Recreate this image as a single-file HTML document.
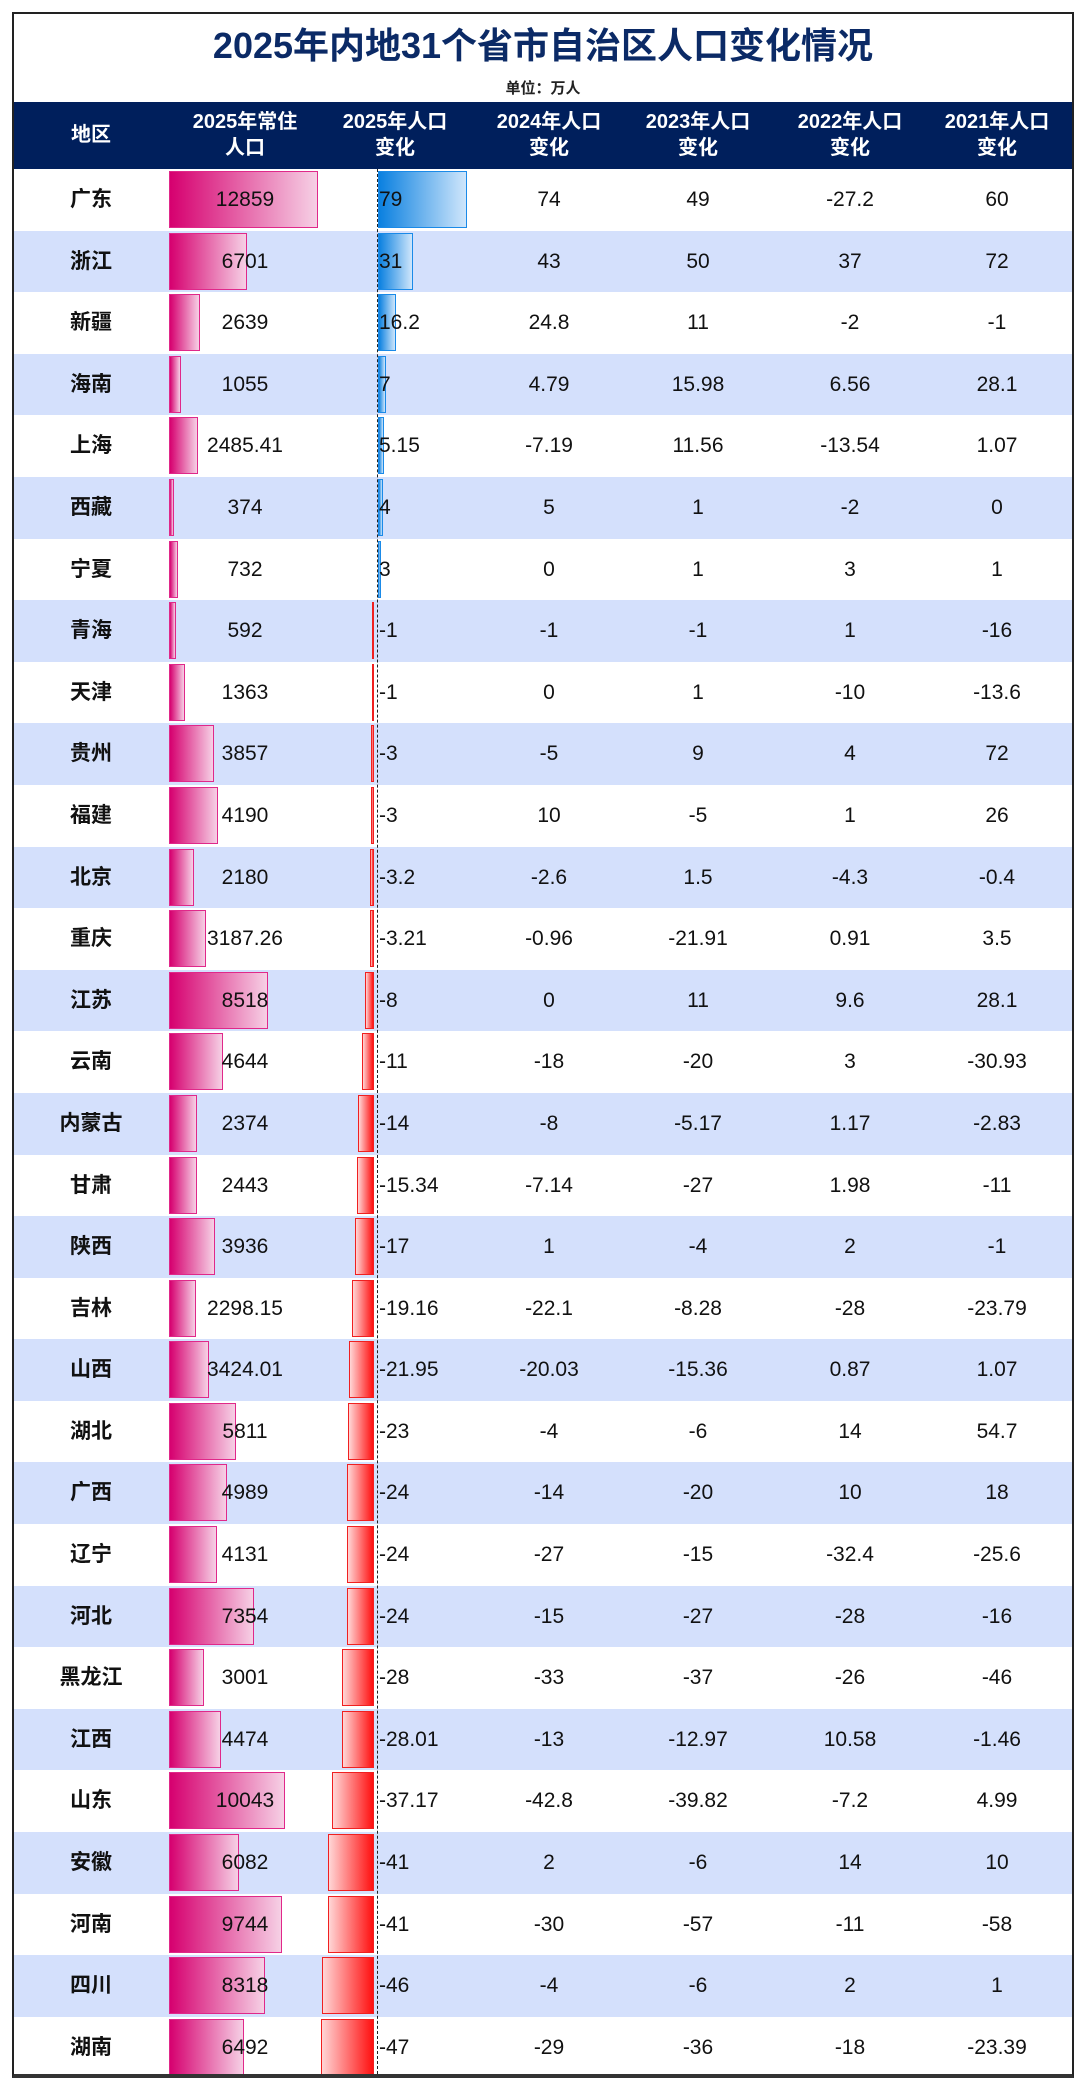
<!DOCTYPE html>
<html><head><meta charset="utf-8"><style>
*{margin:0;padding:0;box-sizing:border-box}
body{width:1080px;height:2085px;background:#fff;font-family:"Liberation Sans","Noto Sans CJK SC",sans-serif;position:relative;overflow:hidden}
#box{position:absolute;left:12px;top:12px;width:1062px;height:2066px;border:2px solid #222;border-bottom:4px solid #333;overflow:hidden}
#title{position:absolute;left:0;width:100%;top:10px;text-align:center;font-size:36px;font-weight:bold;color:#0b2a66;line-height:44px}
#unit{position:absolute;left:0;width:100%;top:63px;text-align:center;font-size:15px;font-weight:bold;color:#222}
#hd{position:absolute;left:0;top:88px;width:100%;height:67px;background:#001f5c;color:#fff;font-weight:bold;font-size:20px}
#hd div{position:absolute;top:0;height:67px;width:160px;margin-left:-80px;text-align:center;line-height:26px;padding-top:7px}
#rows{position:absolute;left:0;top:155px;width:100%}
.r{position:relative;height:61.6px;font-size:21px;color:#111}
.r:nth-child(even){background:#d4e0fc}
.r div{position:absolute}
.n{left:0;width:154px;text-align:center;font-weight:bold;top:0;line-height:61.6px}
.pb{left:155px;top:2px;height:57px;background:linear-gradient(90deg,#d6006f,#f6d0e5);border:1.5px solid #e0288a}
.pv{left:151px;width:160px;text-align:center;line-height:61.6px;top:0}
.cp{left:364px;top:2px;height:57px;background:linear-gradient(90deg,#0a80e0,#cfe6fb);border:1.5px solid #1a8ae8}
.cn{right:698px;top:2px;height:57px;background:linear-gradient(90deg,#ffd6d6,#ff1010);border:1.5px solid #f02020}
.cv{left:365px;line-height:61.6px;top:0}
.c{width:140px;margin-left:-70px;text-align:center;line-height:61.6px;top:0}
.a{left:535px}.b{left:684px}.d{left:836px}.e{left:983px}
#ax{position:absolute;left:363px;top:155px;height:1920px;border-left:1.5px dashed #222}
</style></head><body>
<div id="box">
<div id="title">2025年内地31个省市自治区人口变化情况</div>
<div id="unit">单位：万人</div>
<div id="hd">
<div style="left:77px;padding-top:20px">地区</div>
<div style="left:231px">2025年常住<br>人口</div>
<div style="left:381px">2025年人口<br>变化</div>
<div style="left:535px">2024年人口<br>变化</div>
<div style="left:684px">2023年人口<br>变化</div>
<div style="left:836px">2022年人口<br>变化</div>
<div style="left:983px">2021年人口<br>变化</div>
</div>
<div id="rows">
<div class="r"><div class="n">广东</div><div class="pb" style="width:149px"></div><div class="pv">12859</div><div class="cp" style="width:89px"></div><div class="cv">79</div><div class="c a">74</div><div class="c b">49</div><div class="c d">-27.2</div><div class="c e">60</div></div>
<div class="r"><div class="n">浙江</div><div class="pb" style="width:78px"></div><div class="pv">6701</div><div class="cp" style="width:35px"></div><div class="cv">31</div><div class="c a">43</div><div class="c b">50</div><div class="c d">37</div><div class="c e">72</div></div>
<div class="r"><div class="n">新疆</div><div class="pb" style="width:31px"></div><div class="pv">2639</div><div class="cp" style="width:18px"></div><div class="cv">16.2</div><div class="c a">24.8</div><div class="c b">11</div><div class="c d">-2</div><div class="c e">-1</div></div>
<div class="r"><div class="n">海南</div><div class="pb" style="width:12px"></div><div class="pv">1055</div><div class="cp" style="width:8px"></div><div class="cv">7</div><div class="c a">4.79</div><div class="c b">15.98</div><div class="c d">6.56</div><div class="c e">28.1</div></div>
<div class="r"><div class="n">上海</div><div class="pb" style="width:29px"></div><div class="pv">2485.41</div><div class="cp" style="width:6px"></div><div class="cv">5.15</div><div class="c a">-7.19</div><div class="c b">11.56</div><div class="c d">-13.54</div><div class="c e">1.07</div></div>
<div class="r"><div class="n">西藏</div><div class="pb" style="width:5px"></div><div class="pv">374</div><div class="cp" style="width:4.5px"></div><div class="cv">4</div><div class="c a">5</div><div class="c b">1</div><div class="c d">-2</div><div class="c e">0</div></div>
<div class="r"><div class="n">宁夏</div><div class="pb" style="width:8.5px"></div><div class="pv">732</div><div class="cp" style="width:3.4px"></div><div class="cv">3</div><div class="c a">0</div><div class="c b">1</div><div class="c d">3</div><div class="c e">1</div></div>
<div class="r"><div class="n">青海</div><div class="pb" style="width:7px"></div><div class="pv">592</div><div class="cn" style="width:1.5px"></div><div class="cv">-1</div><div class="c a">-1</div><div class="c b">-1</div><div class="c d">1</div><div class="c e">-16</div></div>
<div class="r"><div class="n">天津</div><div class="pb" style="width:16px"></div><div class="pv">1363</div><div class="cn" style="width:1.5px"></div><div class="cv">-1</div><div class="c a">0</div><div class="c b">1</div><div class="c d">-10</div><div class="c e">-13.6</div></div>
<div class="r"><div class="n">贵州</div><div class="pb" style="width:45px"></div><div class="pv">3857</div><div class="cn" style="width:3.4px"></div><div class="cv">-3</div><div class="c a">-5</div><div class="c b">9</div><div class="c d">4</div><div class="c e">72</div></div>
<div class="r"><div class="n">福建</div><div class="pb" style="width:49px"></div><div class="pv">4190</div><div class="cn" style="width:3.4px"></div><div class="cv">-3</div><div class="c a">10</div><div class="c b">-5</div><div class="c d">1</div><div class="c e">26</div></div>
<div class="r"><div class="n">北京</div><div class="pb" style="width:25px"></div><div class="pv">2180</div><div class="cn" style="width:3.6px"></div><div class="cv">-3.2</div><div class="c a">-2.6</div><div class="c b">1.5</div><div class="c d">-4.3</div><div class="c e">-0.4</div></div>
<div class="r"><div class="n">重庆</div><div class="pb" style="width:37px"></div><div class="pv">3187.26</div><div class="cn" style="width:3.6px"></div><div class="cv">-3.21</div><div class="c a">-0.96</div><div class="c b">-21.91</div><div class="c d">0.91</div><div class="c e">3.5</div></div>
<div class="r"><div class="n">江苏</div><div class="pb" style="width:99px"></div><div class="pv">8518</div><div class="cn" style="width:9px"></div><div class="cv">-8</div><div class="c a">0</div><div class="c b">11</div><div class="c d">9.6</div><div class="c e">28.1</div></div>
<div class="r"><div class="n">云南</div><div class="pb" style="width:54px"></div><div class="pv">4644</div><div class="cn" style="width:12.4px"></div><div class="cv">-11</div><div class="c a">-18</div><div class="c b">-20</div><div class="c d">3</div><div class="c e">-30.93</div></div>
<div class="r"><div class="n">内蒙古</div><div class="pb" style="width:27.5px"></div><div class="pv">2374</div><div class="cn" style="width:15.8px"></div><div class="cv">-14</div><div class="c a">-8</div><div class="c b">-5.17</div><div class="c d">1.17</div><div class="c e">-2.83</div></div>
<div class="r"><div class="n">甘肃</div><div class="pb" style="width:28px"></div><div class="pv">2443</div><div class="cn" style="width:17.3px"></div><div class="cv">-15.34</div><div class="c a">-7.14</div><div class="c b">-27</div><div class="c d">1.98</div><div class="c e">-11</div></div>
<div class="r"><div class="n">陕西</div><div class="pb" style="width:46px"></div><div class="pv">3936</div><div class="cn" style="width:19.2px"></div><div class="cv">-17</div><div class="c a">1</div><div class="c b">-4</div><div class="c d">2</div><div class="c e">-1</div></div>
<div class="r"><div class="n">吉林</div><div class="pb" style="width:27px"></div><div class="pv">2298.15</div><div class="cn" style="width:21.7px"></div><div class="cv">-19.16</div><div class="c a">-22.1</div><div class="c b">-8.28</div><div class="c d">-28</div><div class="c e">-23.79</div></div>
<div class="r"><div class="n">山西</div><div class="pb" style="width:40px"></div><div class="pv">3424.01</div><div class="cn" style="width:24.8px"></div><div class="cv">-21.95</div><div class="c a">-20.03</div><div class="c b">-15.36</div><div class="c d">0.87</div><div class="c e">1.07</div></div>
<div class="r"><div class="n">湖北</div><div class="pb" style="width:67px"></div><div class="pv">5811</div><div class="cn" style="width:26px"></div><div class="cv">-23</div><div class="c a">-4</div><div class="c b">-6</div><div class="c d">14</div><div class="c e">54.7</div></div>
<div class="r"><div class="n">广西</div><div class="pb" style="width:58px"></div><div class="pv">4989</div><div class="cn" style="width:27px"></div><div class="cv">-24</div><div class="c a">-14</div><div class="c b">-20</div><div class="c d">10</div><div class="c e">18</div></div>
<div class="r"><div class="n">辽宁</div><div class="pb" style="width:48px"></div><div class="pv">4131</div><div class="cn" style="width:27px"></div><div class="cv">-24</div><div class="c a">-27</div><div class="c b">-15</div><div class="c d">-32.4</div><div class="c e">-25.6</div></div>
<div class="r"><div class="n">河北</div><div class="pb" style="width:85px"></div><div class="pv">7354</div><div class="cn" style="width:27px"></div><div class="cv">-24</div><div class="c a">-15</div><div class="c b">-27</div><div class="c d">-28</div><div class="c e">-16</div></div>
<div class="r"><div class="n">黑龙江</div><div class="pb" style="width:35px"></div><div class="pv">3001</div><div class="cn" style="width:31.6px"></div><div class="cv">-28</div><div class="c a">-33</div><div class="c b">-37</div><div class="c d">-26</div><div class="c e">-46</div></div>
<div class="r"><div class="n">江西</div><div class="pb" style="width:52px"></div><div class="pv">4474</div><div class="cn" style="width:31.7px"></div><div class="cv">-28.01</div><div class="c a">-13</div><div class="c b">-12.97</div><div class="c d">10.58</div><div class="c e">-1.46</div></div>
<div class="r"><div class="n">山东</div><div class="pb" style="width:116px"></div><div class="pv">10043</div><div class="cn" style="width:42px"></div><div class="cv">-37.17</div><div class="c a">-42.8</div><div class="c b">-39.82</div><div class="c d">-7.2</div><div class="c e">4.99</div></div>
<div class="r"><div class="n">安徽</div><div class="pb" style="width:70px"></div><div class="pv">6082</div><div class="cn" style="width:46px"></div><div class="cv">-41</div><div class="c a">2</div><div class="c b">-6</div><div class="c d">14</div><div class="c e">10</div></div>
<div class="r"><div class="n">河南</div><div class="pb" style="width:113px"></div><div class="pv">9744</div><div class="cn" style="width:46px"></div><div class="cv">-41</div><div class="c a">-30</div><div class="c b">-57</div><div class="c d">-11</div><div class="c e">-58</div></div>
<div class="r"><div class="n">四川</div><div class="pb" style="width:96px"></div><div class="pv">8318</div><div class="cn" style="width:52px"></div><div class="cv">-46</div><div class="c a">-4</div><div class="c b">-6</div><div class="c d">2</div><div class="c e">1</div></div>
<div class="r"><div class="n">湖南</div><div class="pb" style="width:75px"></div><div class="pv">6492</div><div class="cn" style="width:53px"></div><div class="cv">-47</div><div class="c a">-29</div><div class="c b">-36</div><div class="c d">-18</div><div class="c e">-23.39</div></div>
</div>
<div id="ax"></div>
</div>
</body></html>
